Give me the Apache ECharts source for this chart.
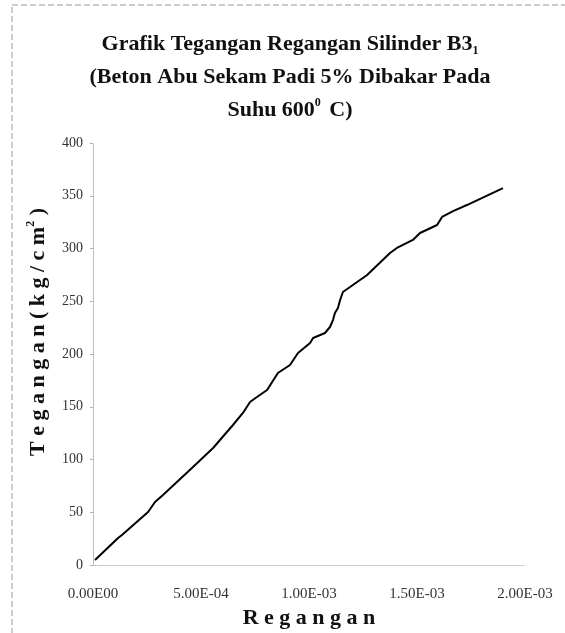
<!DOCTYPE html>
<html>
<head>
<meta charset="utf-8">
<script src="https://cdn.jsdelivr.net/npm/echarts@6/dist/echarts.min.js"></script>
<style>
  html, body { margin: 0; padding: 0; background: #fff; }
  #chart { width: 565px; height: 633px; }
</style>
</head>
<body>
<div id="chart"></div>
<script>
// Strain (Regangan) values
var strain = [
  0.0000093, 0.000116, 0.000134, 0.000255, 0.000287, 0.000324, 0.000458, 0.000556,
  0.000588, 0.000648, 0.000694, 0.000727, 0.000759, 0.000806, 0.000856, 0.000912,
  0.000949, 0.001005, 0.001019, 0.001074, 0.001097, 0.001111, 0.001120, 0.001134,
  0.001144, 0.001157, 0.001190, 0.001269, 0.001375, 0.001407, 0.001481, 0.001514,
  0.001593, 0.001616, 0.001667, 0.001731, 0.001898
];
// Stress (Tegangan, kg/cm2) values
var stress = [
  4.7, 25.6, 28.4, 50.2, 59.7, 66.4, 92.0, 110.9,
  118.5, 132.7, 144.1, 154.5, 159.2, 165.9, 182.0, 189.6,
  200.9, 210.4, 215.2, 219.9, 225.6, 232.2, 238.9, 243.6,
  251.2, 258.8, 263.5, 274.9, 295.7, 300.5, 308.1, 314.7,
  322.3, 329.9, 335.5, 341.2, 357.3
];
var xTickLabels = ['0.00E00', '5.00E-04', '1.00E-03', '1.50E-03', '2.00E-03'];
var yTickLabels = ['0', '50', '100', '150', '200', '250', '300', '350', '400'];

var seriesData = strain.map(function (s, i) { return [s, stress[i]]; });

var serif = '"Liberation Serif", "Times New Roman", serif';
var chart = echarts.init(document.getElementById('chart'));
chart.setOption({
  backgroundColor: '#ffffff',
  animation: false,
  graphic: [{
    type: 'rect',
    shape: { x: 12, y: 5, width: 600, height: 700 },
    style: { fill: 'none', stroke: '#9a9a9a', lineWidth: 1, lineDash: [6, 3] },
    silent: true
  }],
  title: {
    left: 285,
    textAlign: 'center',
    top: 23,
    text: '{a|Grafik Tegangan Regangan Silinder B3}{sub|1}\n{a|(Beton Abu Sekam Padi 5% Dibakar Pada}\n{a|Suhu 600}{sup|0}{a| C)}',
    textStyle: {
      fontFamily: serif,
      fontWeight: 'bold',
      fontSize: 22,
      color: '#111',
      lineHeight: 33,
      rich: {
        a: { fontFamily: serif, fontWeight: 'bold', fontSize: 22, color: '#111', lineHeight: 33 },
        sub: { fontFamily: serif, fontWeight: 'bold', fontSize: 12, color: '#111', lineHeight: 33, padding: [12, 0, 0, 0] },
        sup: { fontFamily: serif, fontWeight: 'bold', fontSize: 12, color: '#111', lineHeight: 33, padding: [0, 3, 16, 0] }
      }
    }
  },
  grid: { left: 93, right: 40, top: 143, bottom: 68, containLabel: false, outerBoundsMode: 'none' },
  xAxis: {
    type: 'value',
    min: 0,
    max: 0.002,
    interval: 0.0005,
    name: 'R e g a n g a n',
    nameLocation: 'middle',
    nameGap: 41,
    nameTextStyle: { fontFamily: serif, fontWeight: 'bold', fontSize: 22, color: '#111' },
    axisLine: { show: true, lineStyle: { color: '#c0c0c0', type: 'dotted', width: 1 } },
    axisTick: { show: false },
    splitLine: { show: false },
    axisLabel: {
      margin: 22,
      fontFamily: serif,
      fontSize: 15,
      color: '#333',
      formatter: function (v) { return xTickLabels[Math.round(v / 0.0005)]; }
    }
  },
  yAxis: {
    type: 'value',
    min: 0,
    max: 400,
    interval: 50,
    name: '{a|T e g a n g a n ( k g / c m}{sup|2}{a| )}',
    nameLocation: 'middle',
    nameGap: 41,
    nameRotate: 90,
    nameTextStyle: {
      fontFamily: serif, fontWeight: 'bold', fontSize: 22, color: '#111',
      padding: [0, 0, 0, 44],
      rich: {
        a: { fontFamily: serif, fontWeight: 'bold', fontSize: 22, color: '#111', lineHeight: 26 },
        sup: { fontFamily: serif, fontWeight: 'bold', fontSize: 12, color: '#111', lineHeight: 26, padding: [0, 0, 14, 0] }
      }
    },
    axisLine: { show: true, lineStyle: { color: '#b0b0b0', type: 'dotted', width: 1 } },
    axisTick: { show: true, length: 3, lineStyle: { color: '#b0b0b0' } },
    splitLine: { show: false },
    axisLabel: {
      margin: 10,
      fontFamily: serif,
      fontSize: 14,
      color: '#333',
      formatter: function (v) { return yTickLabels[Math.round(v / 50)]; }
    }
  },
  series: [{
    type: 'line',
    data: seriesData,
    showSymbol: false,
    symbol: 'none',
    smooth: false,
    lineStyle: { color: '#000', width: 2 }
  }]
});
</script>
</body>
</html>
